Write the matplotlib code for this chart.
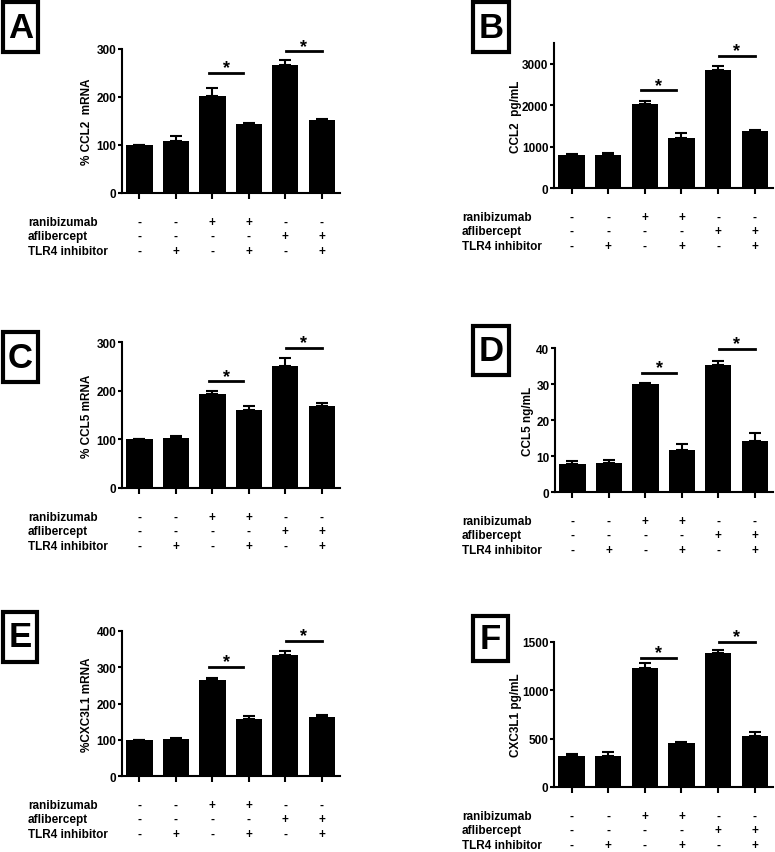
import numpy as np
import matplotlib
matplotlib.use("Agg")
import matplotlib.pyplot as plt
from matplotlib.patches import Rectangle

plt.rcParams['font.family'] = ['Liberation Sans', 'DejaVu Sans']
plt.rcParams['font.weight'] = 'bold'
plt.rcParams['font.size'] = 8.5

# -----------------------------
# Data
# -----------------------------
row_names = ["ranibizumab", "aflibercept", "TLR4 inhibitor"]
ranibizumab = ["-", "-", "+", "+", "-", "-"]
aflibercept = ["-", "-", "-", "-", "+", "+"]
tlr4_inhibitor = ["-", "+", "-", "+", "-", "+"]

ccl2_mrna = [100, 109, 203, 143, 267, 152]
ccl2_mrna_err = [0, 9, 16, 2, 10, 3]
ccl2_prot = [790, 790, 2030, 1215, 2840, 1375]
ccl2_prot_err = [25, 60, 60, 120, 95, 25]
ccl5_mrna = [100, 103, 193, 160, 251, 168]
ccl5_mrna_err = [0, 3, 6, 8, 17, 6]
ccl5_prot = [7.8, 8.1, 29.9, 11.7, 35.2, 14.1]
ccl5_prot_err = [0.7, 0.9, 0.5, 1.6, 1.3, 2.3]
cx3cl1_mrna = [100, 102, 265, 156, 334, 163]
cx3cl1_mrna_err = [0, 3, 4, 10, 12, 6]
cx3cl1_prot = [321, 321, 1234, 452, 1390, 528]
cx3cl1_prot_err = [20, 41, 49, 14, 31, 41]

# height of the two significance bars per panel
sig_A = [250, 295]
sig_B = [2357, 3185]
sig_C = [219, 288]
sig_D = [33.1, 39.7]
sig_E = [302, 372.5]
sig_F = [1338, 1500]

# -----------------------------
# Layout helpers (pixel based)
# -----------------------------
W, H = 775, 853
fig = plt.figure(figsize=(W / 100, H / 100), dpi=100)


def px_axes(l, t, r, b):
    return fig.add_axes([l / W, 1 - b / H, (r - l) / W, (b - t) / H])


def panel_letter(letter, l, t, r, b):
    fig.patches.append(Rectangle((l / W, 1 - b / H), (r - l) / W, (b - t) / H,
                                 transform=fig.transFigure, fill=False,
                                 lw=3, ec='black'))
    fig.text((l + r) / 2 / W, 1 - (t + b) / 2 / H, letter, fontsize=25,
             fontweight='bold', ha='center', va='center')


def bar_panel(box, vals, errs, ylim, yticks, ylabel, label_x, sig, label_left):
    l, t, r, b = box
    ax = px_axes(l, t, r, b)
    x = np.arange(len(vals))
    ax.bar(x, vals, width=0.72, color='black', zorder=2)
    ax.errorbar(x, vals, yerr=[np.zeros(len(errs)), errs], fmt='none',
                ecolor='black', elinewidth=1.5, capsize=4.5, capthick=1.5, zorder=1)
    ax.set_xlim(-0.48, 5.5)
    ax.set_ylim(*ylim)
    ax.set_yticks(yticks)
    ax.set_xticks(x)
    ax.set_xticklabels([])
    for s in ['top', 'right']:
        ax.spines[s].set_visible(False)
    for s in ['left', 'bottom']:
        ax.spines[s].set_linewidth(1.5)
    ax.tick_params(axis='y', length=3, width=1.5, pad=1, labelsize=8.5)
    ax.tick_params(axis='x', length=4, width=1.5)
    ax.set_ylabel(ylabel, fontsize=8.5, fontweight='bold')
    ax.yaxis.set_label_coords((label_x + 6.5 - l) / (r - l), 0.5)

    # significance bars
    for (x1, x2), y in zip([(1.9, 2.85), (4.02, 5.0)], sig):
        ax.plot([x1, x2], [y, y], color='black', lw=2, clip_on=False)
        ax.annotate('*', xy=((x1 + x2) / 2, y), xytext=(0, 0.5),
                    textcoords='offset points', ha='center', va='baseline',
                    fontsize=13, fontweight='bold', annotation_clip=False)

    # treatment table
    hpx = b - t
    for off, name, signs in zip([29, 43, 58], row_names,
                                [ranibizumab, aflibercept, tlr4_inhibitor]):
        fig.text(label_left / W, 1 - (b + off) / H, name, fontsize=8.5,
                 fontweight='bold', ha='left', va='center')
        for xi, sgn in zip(x, signs):
            ax.text(xi, -off / hpx, sgn, transform=ax.get_xaxis_transform(),
                    fontsize=8.5, fontweight='bold', ha='center', va='center')
    return ax


# -----------------------------
# Panels
# -----------------------------
bar_panel((122, 50, 340, 194), ccl2_mrna, ccl2_mrna_err, (0, 300), [0, 100, 200, 300],
          "% CCL2  mRNA", 87, sig_A, 28)
bar_panel((554, 44, 773, 189), ccl2_prot, ccl2_prot_err, (0, 3500), [0, 1000, 2000, 3000],
          "CCL2  pg/mL", 515, sig_B, 462)
bar_panel((122, 343, 340, 489), ccl5_mrna, ccl5_mrna_err, (0, 300), [0, 100, 200, 300],
          "% CCL5 mRNA", 87, sig_C, 28)
bar_panel((555, 349, 773, 493), ccl5_prot, ccl5_prot_err, (0, 40), [0, 10, 20, 30, 40],
          "CCL5 ng/mL", 527, sig_D, 462)
bar_panel((122, 632, 340, 777), cx3cl1_mrna, cx3cl1_mrna_err, (0, 400), [0, 100, 200, 300, 400],
          "%CXC3L1 mRNA", 87, sig_E, 28)
bar_panel((554, 643, 773, 788), cx3cl1_prot, cx3cl1_prot_err, (0, 1500), [0, 500, 1000, 1500],
          "CXC3L1 pg/mL", 515, sig_F, 462)

panel_letter("A", 3, 3, 38, 53)
panel_letter("B", 473, 3, 509, 53)
panel_letter("C", 3, 333, 38, 383)
panel_letter("D", 473, 327, 509, 376)
panel_letter("E", 3, 613, 37, 663)
panel_letter("F", 473, 617, 508, 662)

fig.savefig("out.png", dpi=100)
